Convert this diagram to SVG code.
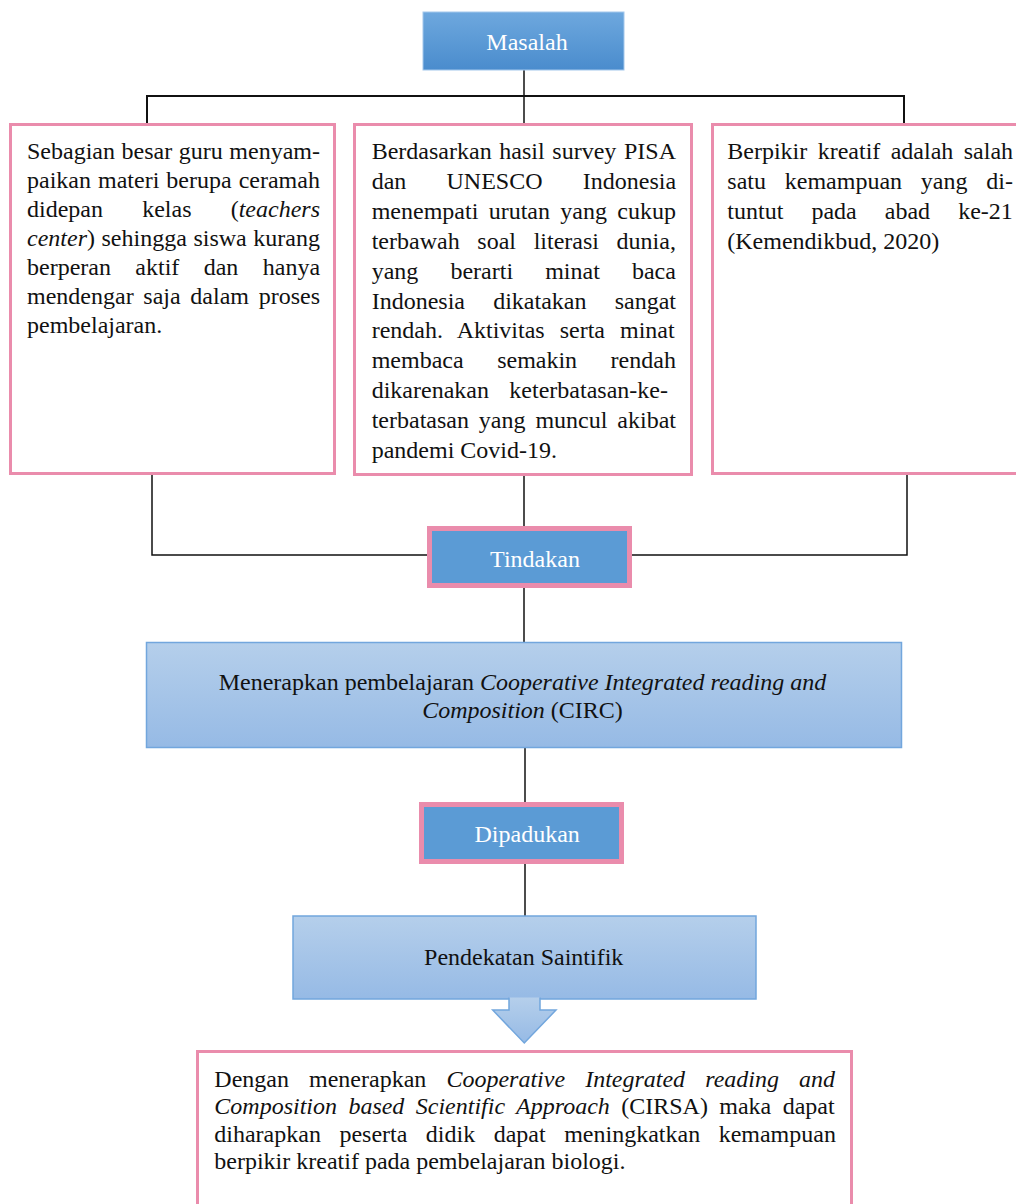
<svg xmlns="http://www.w3.org/2000/svg" width="1016" height="1204" viewBox="0 0 1016 1204">
<style>
text{font-family:"Liberation Serif","Times New Roman",serif;font-size:24px;fill:#111}
.w{fill:#fff}
.i{font-style:italic}
.pink{fill:#fff;stroke:#ea8cac;stroke-width:3}
.tag{fill:#5b9bd5;stroke:#ea8cac;stroke-width:5}
.lb{fill:url(#lg);stroke:#72a6dd;stroke-width:1.5}
.conn{stroke:#111;stroke-width:1.5;fill:none}
</style>
<defs>
<linearGradient id="mg" x1="0" y1="0" x2="0" y2="1"><stop offset="0" stop-color="#6ea8de"/><stop offset="1" stop-color="#4a8ccd"/></linearGradient>
<linearGradient id="lg" x1="0" y1="0" x2="0" y2="1"><stop offset="0" stop-color="#b5cfeb"/><stop offset="1" stop-color="#96bae5"/></linearGradient>
</defs>
<g id="connectors">
<path class="conn" d="M524,70V124"/>
<path class="conn" style="stroke-width:2" d="M147,124V96H904V124"/>
<path class="conn" d="M152,474V555H428"/>
<path class="conn" d="M907,474V555H632"/>
<path class="conn" d="M524,476V526"/>
<path class="conn" d="M524,588V642"/>
<path class="conn" d="M525,748V802"/>
<path class="conn" d="M525,864V916"/>
</g>
<g id="masalah">
<rect x="423" y="12" width="201" height="58" fill="url(#mg)" stroke="#a4c8ec" stroke-width="1"/>
<text class="w" x="527" y="50" text-anchor="middle">Masalah</text>
</g>
<g id="box1">
<rect class="pink" x="10.5" y="124.5" width="324" height="349"/>
<text x="27" y="159" word-spacing="0.57">Sebagian besar guru menyam-</text>
<text x="27" y="188" word-spacing="1.03">paikan materi berupa ceramah</text>
<text x="27" y="217" word-spacing="33.2">didepan kelas (<tspan class="i">teachers</tspan></text>
<text x="27" y="246" word-spacing="0.57"><tspan class="i">center</tspan>) sehingga siswa kurang</text>
<text x="27" y="275" word-spacing="18.4">berperan aktif dan hanya</text>
<text x="27" y="304" word-spacing="3.7">mendengar saja dalam proses</text>
<text x="27" y="333">pembelajaran.</text>
</g>
<g id="box2">
<rect class="pink" x="354.5" y="124.5" width="337" height="350"/>
<text x="371.7" y="159" word-spacing="1.67">Berdasarkan hasil survey PISA</text>
<text x="371.7" y="188.9" word-spacing="34.2">dan UNESCO Indonesia</text>
<text x="371.7" y="218.8" word-spacing="4.33">menempati urutan yang cukup</text>
<text x="371.7" y="248.7" word-spacing="11.67">terbawah soal literasi dunia,</text>
<text x="371.7" y="278.6" word-spacing="26.1">yang berarti minat baca</text>
<text x="371.7" y="308.5" word-spacing="22.2">Indonesia dikatakan sangat</text>
<text x="371.7" y="338.4" word-spacing="9">rendah. Aktivitas serta minat</text>
<text x="371.7" y="368.3" word-spacing="27.5">membaca semakin rendah</text>
<text x="371.7" y="398.2" word-spacing="14.4">dikarenakan keterbatasan-ke-</text>
<text x="371.7" y="428.1" word-spacing="3.9">terbatasan yang muncul akibat</text>
<text x="371.7" y="458">pandemi Covid-19.</text>
</g>
<g id="box3">
<rect class="pink" x="712.5" y="124.5" width="320" height="349"/>
<text x="727.3" y="159" word-spacing="4.4">Berpikir kreatif adalah salah</text>
<text x="727.3" y="189" word-spacing="12.8">satu kemampuan yang di-</text>
<text x="727.3" y="219" word-spacing="22.1">tuntut pada abad ke-21</text>
<text x="727.3" y="249">(Kemendikbud, 2020)</text>
</g>
<g id="tindakan">
<rect class="tag" x="429.5" y="528.5" width="200" height="57"/>
<text class="w" x="535" y="566.7" text-anchor="middle">Tindakan</text>
</g>
<g id="circ">
<rect class="lb" x="146.5" y="642.5" width="755" height="105"/>
<text x="522.5" y="690" text-anchor="middle">Menerapkan pembelajaran <tspan class="i">Cooperative Integrated reading and</tspan></text>
<text x="522.5" y="718.3" text-anchor="middle"><tspan class="i">Composition</tspan> (CIRC)</text>
</g>
<g id="dipadukan">
<rect class="tag" x="421.5" y="804.5" width="200" height="57"/>
<text class="w" x="527.2" y="841.7" text-anchor="middle">Dipadukan</text>
</g>
<g id="pendekatan">
<rect class="lb" x="293" y="916" width="463" height="83"/>
<text x="523.7" y="965" text-anchor="middle">Pendekatan Saintifik</text>
<path d="M509,997.5V1010H492.7L524.3,1043L556,1010H540V997.5" fill="url(#lg)" stroke="#72a6dd" stroke-width="1.5"/>
</g>
<g id="kesimpulan">
<rect class="pink" x="197.5" y="1051.5" width="654" height="200"/>
<text x="214.3" y="1086.7" word-spacing="14.1">Dengan menerapkan <tspan class="i">Cooperative Integrated reading and</tspan></text>
<text x="214.3" y="1114.2" word-spacing="5.4"><tspan class="i">Composition based Scientific Approach</tspan> (CIRSA) maka dapat</text>
<text x="214.3" y="1141.7" word-spacing="12.5">diharapkan peserta didik dapat meningkatkan kemampuan</text>
<text x="214.3" y="1169.2">berpikir kreatif pada pembelajaran biologi.</text>
</g>
</svg>
